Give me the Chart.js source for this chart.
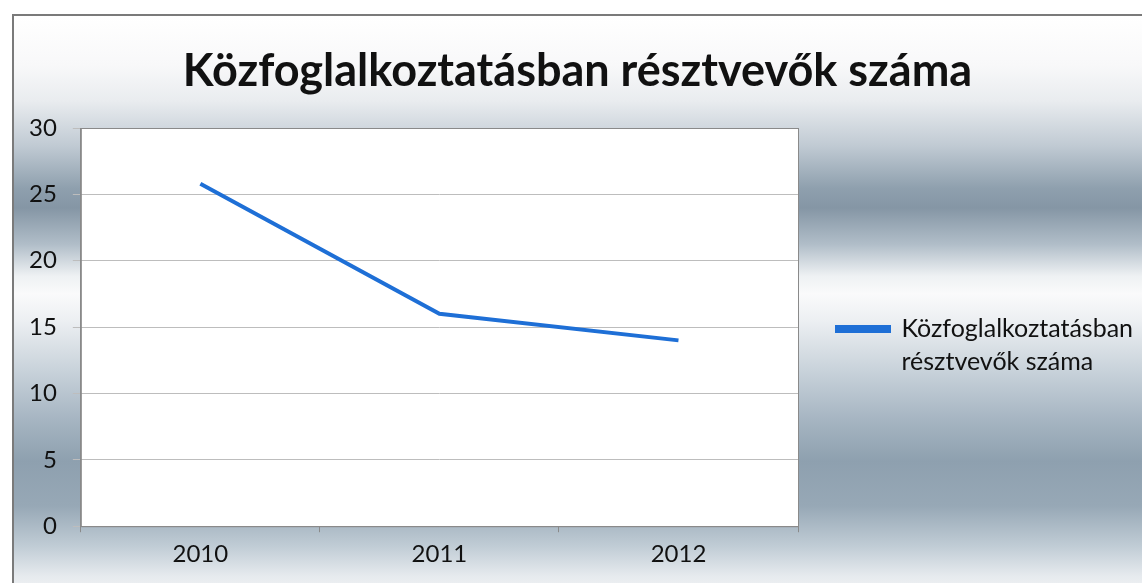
<!DOCTYPE html>
<html>
<head>
<meta charset="utf-8">
<script src="https://cdn.jsdelivr.net/npm/chart.js@4.4.1/dist/chart.umd.min.js"></script>
<style>
  html, body { margin: 0; padding: 0; background: #ffffff; }
  #wrap { position: relative; width: 1142px; height: 583px; overflow: hidden; }
  #bg {
    position: absolute; left: 12px; top: 14px; width: 1140px; height: 580px;
    border-top: 2px solid #7a7a7a; border-left: 2px solid #7a7a7a;
    background: linear-gradient(to bottom,
      #ffffff 0px, #f8f8f9 50px, #e9ecef 85px, #c0cad3 130px, #8fa0ae 172px,
      #8596a5 192px, #b0bdc8 228px, #eef1f3 260px, #fafafb 278px, #eceff2 305px,
      #c8d2da 355px, #a5b4c1 405px, #8ea0af 445px, #97a8b6 490px, #c0ccd5 530px,
      #e6eaee 560px, #f4f5f6 580px);
  }
  canvas { position: absolute; left: 0; top: 0; }
</style>
</head>
<body>
<div id="wrap">
  <div id="bg"></div>
  <canvas id="c" width="1142" height="583"></canvas>
</div>
<script>
const titleText = "Közfoglalkoztatásban résztvevők száma";
const categories = ["2010", "2011", "2012"];
const seriesName = ["Közfoglalkoztatásban", "résztvevők száma"];
const seriesValues = [25.8, 16, 14];
const yTicks = [0, 5, 10, 15, 20, 25, 30];

const plotBg = {
  id: 'plotBg',
  beforeDraw(chart) {
    const a = chart.chartArea, ctx = chart.ctx;
    ctx.save();
    ctx.fillStyle = '#ffffff';
    ctx.fillRect(a.left, a.top, a.right - a.left, a.bottom - a.top);
    ctx.restore();
  },
  beforeDatasetsDraw(chart) {
    const a = chart.chartArea, ctx = chart.ctx;
    ctx.save();
    ctx.strokeStyle = '#8a8a8a';
    ctx.lineWidth = 1;
    ctx.strokeRect(a.left + 0.5, a.top + 0.5, a.right - a.left, a.bottom - a.top);
    ctx.restore();
  }
};

new Chart(document.getElementById('c'), {
  type: 'line',
  data: {
    labels: categories,
    datasets: [{
      label: seriesName,
      data: seriesValues,
      borderColor: '#1e6fd6',
      backgroundColor: '#1e6fd6',
      borderWidth: 4,
      pointRadius: 0,
      tension: 0,
      fill: false
    }]
  },
  options: {
    responsive: false,
    animation: false,
    layout: { padding: { left: 13, right: 0, top: 0, bottom: 6 } },
    plugins: {
      title: {
        display: true,
        text: titleText,
        color: '#111111',
        font: { family: 'Lato', weight: 'bold', size: 45, lineHeight: 1.2 },
        padding: { top: 44, bottom: 30 }
      },
      legend: {
        display: true,
        position: 'right',
        align: 'center',
        maxWidth: 344,
        title: { display: true, text: '', font: { size: 10, lineHeight: 1 }, padding: { top: 0, bottom: 112 } },
        labels: {
          color: '#111111',
          font: { family: 'Lato', size: 25, lineHeight: 1.32 },
          boxWidth: 52,
          boxHeight: 4,
          padding: 39
        }
      },
      tooltip: { enabled: false }
    },
    scales: {
      x: {
        offset: true,
        grid: { display: true, drawOnChartArea: false, drawTicks: true, tickLength: 6, offset: true, color: '#8a8a8a' },
        border: { display: true, color: '#8a8a8a' },
        ticks: { color: '#111111', font: { family: 'Lato', size: 24 }, padding: 8 }
      },
      y: {
        min: 0,
        max: 30,
        afterBuildTicks(scale) { scale.ticks = yTicks.map(v => ({ value: v })); },
        grid: { color: '#bdbdbd', tickLength: 8 },
        border: { display: true, color: '#8a8a8a' },
        ticks: { color: '#111111', font: { family: 'Lato', size: 24 }, padding: 16 }
      }
    }
  },
  plugins: [plotBg]
});
</script>
</body>
</html>
